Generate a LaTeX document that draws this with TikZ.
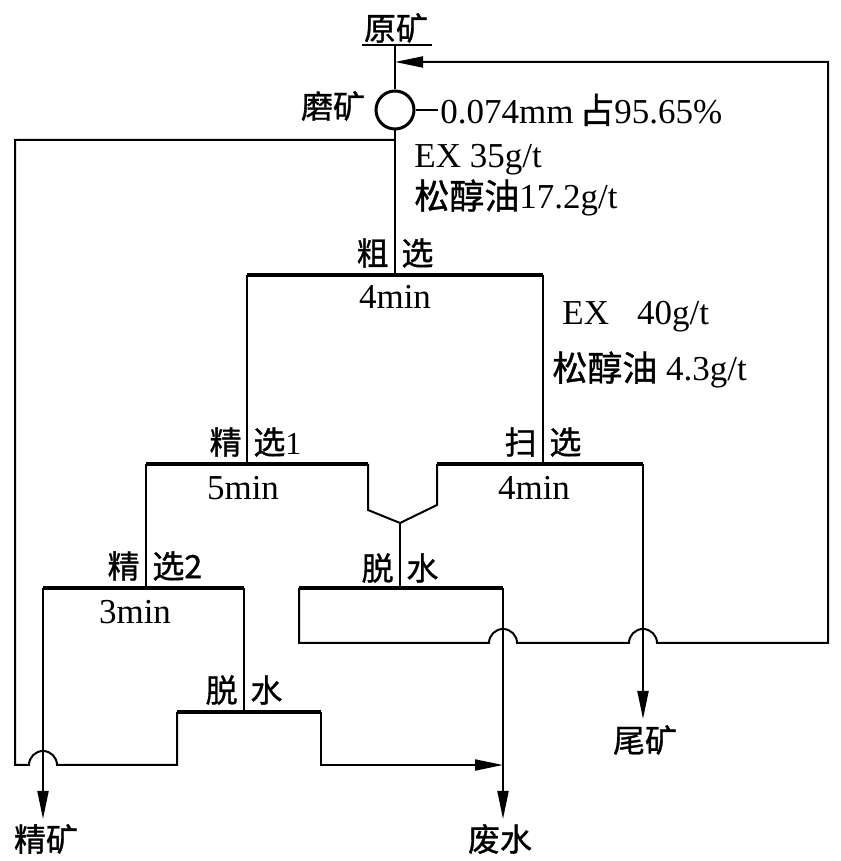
\documentclass[tikz,border=0pt]{standalone}
\usepackage{fontspec}
\setmainfont{Liberation Serif}
\newfontfamily\cjk[FakeBold=1]{Noto Sans CJK SC}
\usetikzlibrary{arrows.meta}
\tikzset{
  flow/.style={line width=1pt},
  stage/.style={line width=1.6pt},
  outflow/.style={line width=1pt, -{Triangle[length=14pt,width=5.5pt]}},
  lbl/.style={font=\cjk\fontsize{16}{19}\selectfont, inner sep=1pt},
  txt/.style={font=\fontsize{17.5}{20}\selectfont, inner sep=1pt},
  mill/.style={circle, draw, line width=1.5pt, minimum size=19pt, inner sep=0pt}
}
\begin{document}
\begin{tikzpicture}[x=0.5pt,y=0.5pt]
\useasboundingbox (0,0) rectangle (840,861);
% feed and grinding
\node[lbl] (feed) at (396,833) {原矿};
\node[mill] (mill) at (395,751) {};
\node[lbl] (millname) at (333,755) {磨矿};
\node[txt, anchor=west] (grade) at (438,751) {0.074mm\,{\cjk 占}95.65\%};
\node[txt, anchor=west] (ex1) at (412,701) {EX 35g/t};
\node[txt, anchor=west] (oil1) at (412,663) {{\cjk 松醇油}17.2g/t};
\coordinate (fd) at (395,816);
\coordinate (rec) at (395,799);
\coordinate (ret) at (395,721);
\draw[flow] (362,816) -- (432,816);
\draw[flow] (fd) -- (mill.north);
\draw[flow] (mill.east) -- (grade.west);
% roughing
\coordinate (rough) at (395,586);
\coordinate (rl) at (247,586);
\coordinate (rr) at (543,586);
\node[lbl, anchor=east] (ro1) at (391,608) {粗};
\node[lbl, anchor=west] (ro2) at (399,608) {选};
\node[txt] (rot) at (395,564) {4min};
\node[txt, anchor=west] (ex2) at (560,544) {EX\hskip0.8em 40g/t};
\node[txt, anchor=west] (oil2) at (550,491) {{\cjk 松醇油} 4.3g/t};
\draw[flow] (mill.south) -- (rough);
\draw[stage] (rl) -- (rr);
% cleaner 1 and scavenger
\coordinate (c1) at (247,397);
\coordinate (c1l) at (146,397);
\coordinate (c1r) at (368,397);
\coordinate (sc) at (543,397);
\coordinate (scl) at (437,397);
\coordinate (scr) at (643,397);
\coordinate (vee) at (400,338);
\node[lbl, anchor=east] (cl1a) at (244,419) {精};
\node[lbl, anchor=west] (cl1b) at (251,419) {选\textrm{1}};
\node[txt] (cl1t) at (243,373) {5min};
\node[lbl, anchor=east] (sca) at (539,419) {扫};
\node[lbl, anchor=west] (scb) at (547,419) {选};
\node[txt] (sct) at (534,373) {4min};
\draw[flow] (rl) -- (c1);
\draw[flow] (rr) -- (sc);
\draw[stage] (c1l) -- (c1r);
\draw[stage] (scl) -- (scr);
\draw[flow] (c1r) -- (368,351) -- (vee) -- (437,356) -- (scl);
% cleaner 2
\coordinate (c2) at (146,273);
\coordinate (c2l) at (43,273);
\coordinate (c2r) at (244,273);
\node[lbl, anchor=east] (cl2a) at (142,295) {精};
\node[lbl, anchor=west] (cl2b) at (150,295) {选2};
\node[txt] (cl2t) at (135,249) {3min};
\draw[flow] (c1l) -- (c2);
\draw[stage] (c2l) -- (c2r);
% dewatering 1
\coordinate (dw1) at (400,273);
\coordinate (dw1l) at (299,273);
\coordinate (dw1r) at (503,273);
\node[lbl, anchor=east] (dw1a) at (396,293) {脱};
\node[lbl, anchor=west] (dw1b) at (404,293) {水};
\draw[flow] (vee) -- (dw1);
\draw[stage] (dw1l) -- (dw1r);
% dewatering 2
\coordinate (dw2) at (244,149);
\coordinate (dw2l) at (177,149);
\coordinate (dw2r) at (321,149);
\node[lbl, anchor=east] (dw2a) at (240,171) {脱};
\node[lbl, anchor=west] (dw2b) at (248,171) {水};
\draw[flow] (c2r) -- (dw2);
\draw[stage] (dw2l) -- (dw2r);
% products
\node[lbl] (conc) at (46,22) {精矿};
\node[lbl] (water) at (500,22) {废水};
\node[lbl] (tail) at (645,121) {尾矿};
\draw[outflow] (c2l) -- (43,42);
\draw[outflow] (dw1r) -- (503,42);
\draw[outflow] (scr) -- (643,142);
\draw[outflow] (dw2r) -- (321,96) -- (503,96);
% return lines
\draw[flow] (dw2l) -- (177,96) -- (57,96) arc[start angle=0, end angle=180, radius=7pt] -- (15,96) |- (ret);
\draw[flow, -{Triangle[length=14pt,width=5.5pt]}] (dw1l) -- (299,218) -- (489,218)
  arc[start angle=180, end angle=0, radius=7pt] -- (629,218)
  arc[start angle=180, end angle=0, radius=7pt] -- (828,218) -- (828,799) -- (rec);
\end{tikzpicture}
\end{document}
